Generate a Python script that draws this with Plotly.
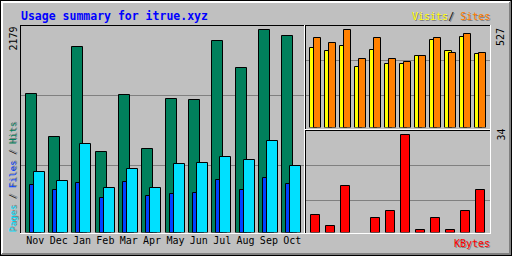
import plotly.graph_objects as go

# ---------------- data ----------------
months = ["Nov", "Dec", "Jan", "Feb", "Mar", "Apr", "May", "Jun", "Jul", "Aug", "Sep", "Oct"]
hits   = [1489, 1027, 1993, 866, 1478, 898, 1435, 1424, 2058, 1768, 2179, 2111]
files  = [512, 458, 533, 372, 544, 397, 415, 426, 566, 458, 587, 523]
pages  = [652, 555, 952, 483, 684, 483, 737, 748, 813, 780, 984, 716]
visits = [430, 414, 436, 323, 419, 344, 339, 382, 473, 414, 489, 393]
sites  = [479, 457, 527, 371, 479, 366, 350, 382, 479, 398, 505, 398]
kbytes = [6.2, 2.1, 16.3, 0, 5.2, 7.3, 34, 1.0, 5.2, 1.0, 7.3, 14.6]
title = "Usage summary for itrue.xyz"

# ---------------- styling ----------------
W, H = 512, 256
BG = "#C0C0C0"
DKGREY = "#808080"
C_HITS, C_FILES, C_PAGES = "#00805C", "#0040FF", "#00E0FF"
C_VISITS, C_SITES, C_KB = "#FFFF00", "#FF8000", "#FF0000"
MONO = "DejaVu Sans Mono"
SHADOW = "1px 1px 0px #808080"

def px(x):
    return x / W

def py(y):
    return 1 - y / H

idx = list(range(len(months)))

K1 = 23.36                     # px per month, main panel
R1 = -4.5 / K1
K2 = 15.0                      # px per month, right panels
R2 = -3.5 / K2

fig = go.Figure()

def bars(y, color, off_px, w_px, k, xa, ya):
    fig.add_trace(go.Bar(
        x=idx, y=[v if v > 0 else None for v in y],
        offset=off_px / k, width=w_px / k,
        marker=dict(color=color, line=dict(color="black", width=1)),
        xaxis=xa, yaxis=ya, hoverinfo="skip", showlegend=False))

bars(hits, C_HITS, 0, 11, K1, "x", "y")
bars(files, C_FILES, 4, 11, K1, "x", "y")
bars(pages, C_PAGES, 8, 11, K1, "x", "y")
bars(visits, C_VISITS, 0, 7, K2, "x2", "y2")
bars(sites, C_SITES, 4, 7, K2, "x2", "y2")
bars(kbytes, C_KB, 1, 9, K2, "x3", "y3")

shapes = []

def line(x0, y0, x1, y1, color, layer="above"):
    shapes.append(dict(type="line", xref="paper", yref="paper",
                       x0=px(x0), y0=py(y0), x1=px(x1), y1=py(y1),
                       line=dict(color=color, width=1), layer=layer))

# grid lines
for gy in (95.5, 165.5):
    line(21, gy, 304, gy, DKGREY, "below")
for gy in (60.5, 95.5, 165.5, 200.5):
    line(306, gy, 490, gy, DKGREY, "below")

# outer frame
for i in (1, 2):
    line(i, i + 0.5, W - i, i + 0.5, "white")
    line(i + 0.5, i, i + 0.5, H - i, "white")
for i in (1, 2):
    line(i, H - i - 0.5, W - i, H - i - 0.5, DKGREY)
    line(W - i - 0.5, i, W - i - 0.5, H - i, DKGREY)
line(0, 0.5, W, 0.5, "black")
line(0, H - 0.5, W, H - 0.5, "black")
line(0.5, 0, 0.5, H, "black")
line(W - 0.5, 0, W - 0.5, H, "black")

# panel borders (inset)
def panel(x0, y0, x1, y1):
    line(x0, y0 + 0.5, x1 + 1, y0 + 0.5, "black")
    line(x0 + 0.5, y0, x0 + 0.5, y1 + 1, "black")
    line(x0, y1 + 0.5, x1 + 1, y1 + 0.5, "white")
    line(x1 + 0.5, y0, x1 + 0.5, y1 + 1, "white")

panel(20, 25, 304, 233)
panel(305, 25, 490, 129)
panel(305, 130, 490, 233)

ann = []

def text(x, y, s, color, size=10, angle=0, xanchor="center", shadow=False):
    font = dict(family=MONO, size=size, color=color)
    if shadow:
        font["shadow"] = SHADOW
    ann.append(dict(x=px(x), y=py(y), xref="paper", yref="paper", text=s,
                    showarrow=False, textangle=angle, xanchor=xanchor, yanchor="middle",
                    font=font))

text(19, 15.5, "<b>" + title + "</b>", "#0000FF", size=11.5, xanchor="left")

# max value labels
text(12.5, 39, str(max(hits)), "black", angle=-90)
text(500, 37, str(max(max(visits), max(sites))), "black", angle=-90)
text(501, 134.5, str(int(round(max(kbytes)))), "black", angle=-90)

def span(s, c):
    return '<span style="color:%s">%s</span>' % (c, s)

top_leg = span("Visits", C_VISITS) + span("/ ", "black") + span("Sites", C_SITES)
text(410, 16.5, top_leg, "black", xanchor="left", shadow=True)

left_leg = (span("Pages", C_PAGES) + span(" / ", "black") + span("Files", C_FILES)
            + span(" / ", "black") + span("Hits", C_HITS))
text(12, 177.5, left_leg, "black", size=9.2, angle=-90, shadow=True)

text(471.5, 243, "KBytes", C_KB, shadow=True)

fig.update_layout(
    width=W, height=H, margin=dict(l=0, r=0, t=0, b=0),
    paper_bgcolor=BG, plot_bgcolor="rgba(0,0,0,0)",
    barmode="overlay", bargap=0, showlegend=False,
    shapes=shapes, annotations=ann,
    xaxis=dict(domain=[px(21), px(304)], range=[R1, R1 + 283 / K1],
               tickvals=[i + 9.8 / K1 for i in idx], ticktext=months, ticks="",
               tickfont=dict(family=MONO, size=10, color="black"),
               showgrid=False, zeroline=False, showline=False, anchor="y"),
    yaxis=dict(domain=[py(232.5), py(26)], range=[0, max(hits) * (232.5 - 26) / 203],
               showticklabels=False, showgrid=False, zeroline=False, anchor="x"),
    xaxis2=dict(domain=[px(306), px(490)], range=[R2, R2 + 184 / K2],
                showticklabels=False, showgrid=False, zeroline=False, anchor="y2"),
    yaxis2=dict(domain=[py(127.5), py(26)], range=[0, max(sites) * (127.5 - 26) / 98],
                showticklabels=False, showgrid=False, zeroline=False, anchor="x2"),
    xaxis3=dict(domain=[px(306), px(490)], range=[R2, R2 + 184 / K2],
                showticklabels=False, showgrid=False, zeroline=False, anchor="y3"),
    yaxis3=dict(domain=[py(232.5), py(131)], range=[0, max(kbytes) * (232.5 - 131) / 98],
                showticklabels=False, showgrid=False, zeroline=False, anchor="x3"),
)

fig.write_html("out.html", config={"displayModeBar": False},
               post_script="document.body.style.margin='0';document.body.style.overflow='hidden';")
